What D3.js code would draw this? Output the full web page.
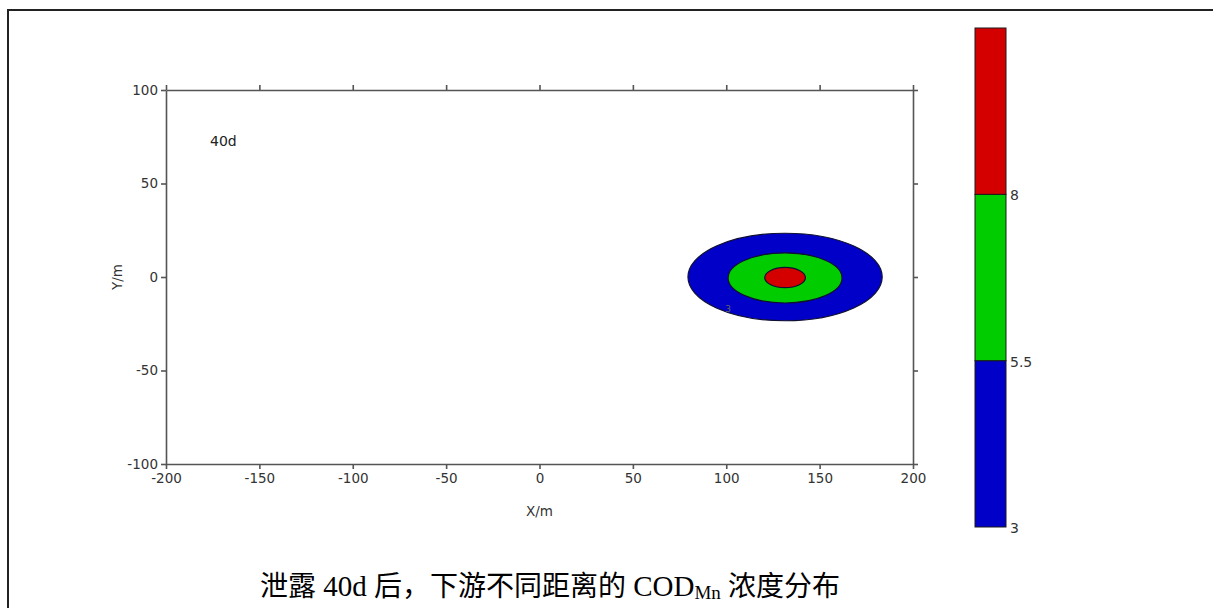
<!DOCTYPE html>
<html>
<head>
<meta charset="utf-8">
<script src="https://cdn.jsdelivr.net/npm/d3@7"></script>
<style>
  html, body { margin: 0; padding: 0; background: #fff; }
  svg { display: block; }
</style>
</head>
<body>
<svg id="chart" width="1213" height="608"></svg>
<script>
// Plume footprint after 40 days: nested concentration bands (outer to inner)
const bandLevels = [3, 5.5, 8];                 // lower bound of each band
const bandColors = ["#0000c8", "#00cc00", "#d40000"];
const bandCenterX = [131.5, 131.5, 131.5];      // m
const bandCenterY = [0, -0.5, -0.3];            // m
const bandRadiusX = [52, 30.5, 10.9];           // m
const bandRadiusY = [23.4, 13.4, 5.4];          // m

const colorbarLevels = [3, 5.5, 8, 10.5];
const colorbarLabels = ["3", "5.5", "8"];

const xTicks = [-200, -150, -100, -50, 0, 50, 100, 150, 200];
const yTicks = [-100, -50, 0, 50, 100];

const timeLabel = "40d";

const svg = d3.select("#chart");

// outer frame (top and left edges)
svg.append("path")
  .attr("d", "M8,608 V10 H1213")
  .attr("fill", "none")
  .attr("stroke", "#222")
  .attr("stroke-width", 2);

const plot = { left: 166, right: 913, top: 90, bottom: 464 };

const x = d3.scaleLinear().domain([-200, 200]).range([plot.left, plot.right]);
const y = d3.scaleLinear().domain([-100, 100]).range([plot.bottom, plot.top]);

const axisColor = "#555";
const tickFont = "'DejaVu Sans', Verdana, sans-serif";
const tickSize = 13.5;

// concentration bands
const bands = svg.append("g");
bandLevels.forEach((lv, i) => {
  const cx = x(bandCenterX[i]), cy = y(bandCenterY[i]);
  const rx = x(bandCenterX[i] + bandRadiusX[i]) - cx;
  const ry = cy - y(bandCenterY[i] + bandRadiusY[i]);
  bands.append("ellipse")
    .attr("cx", cx).attr("cy", cy)
    .attr("rx", rx).attr("ry", ry)
    .attr("fill", bandColors[i])
    .attr("stroke", "#101030")
    .attr("stroke-width", 1.2);
});

// small contour label on the outer band
svg.append("text")
  .attr("x", x(101)).attr("y", y(-18.5))
  .attr("font-family", tickFont)
  .attr("font-size", 9)
  .attr("fill", "#666")
  .attr("text-anchor", "middle")
  .text("3");

function styleAxis(g) {
  g.selectAll("path, line").attr("stroke", axisColor).attr("stroke-width", 1.6);
  g.selectAll("text").attr("fill", "#333").attr("font-family", tickFont).attr("font-size", tickSize);
}

const fmt = d => String(d);

svg.append("g")
  .attr("transform", `translate(0,${plot.bottom})`)
  .call(d3.axisBottom(x).tickValues(xTicks).tickFormat(fmt).tickSize(5).tickSizeOuter(0).tickPadding(4))
  .call(styleAxis);

svg.append("g")
  .attr("transform", `translate(0,${plot.top})`)
  .call(d3.axisTop(x).tickValues(xTicks).tickFormat("").tickSize(5).tickSizeOuter(0))
  .call(styleAxis);

svg.append("g")
  .attr("transform", `translate(${plot.left},0)`)
  .call(d3.axisLeft(y).tickValues(yTicks).tickFormat(fmt).tickSize(5).tickSizeOuter(0).tickPadding(3))
  .call(styleAxis);

svg.append("g")
  .attr("transform", `translate(${plot.right},0)`)
  .call(d3.axisRight(y).tickValues(yTicks).tickFormat("").tickSize(5).tickSizeOuter(0))
  .call(styleAxis);

// axis titles
svg.append("text")
  .attr("x", (plot.left + plot.right) / 2).attr("y", 516)
  .attr("text-anchor", "middle")
  .attr("font-family", tickFont).attr("font-size", tickSize).attr("fill", "#333")
  .text("X/m");

svg.append("text")
  .attr("transform", `translate(122,${(plot.top + plot.bottom) / 2}) rotate(-90)`)
  .attr("text-anchor", "middle")
  .attr("font-family", tickFont).attr("font-size", tickSize).attr("fill", "#333")
  .text("Y/m");

// time stamp
svg.append("text")
  .attr("x", 210).attr("y", 146)
  .attr("font-family", tickFont).attr("font-size", 14).attr("fill", "#222")
  .text(timeLabel);

// colour bar
const cb = d3.scaleLinear().domain([3, 10.5]).range([527, 28]);
const cbX = 975, cbW = 31;
const cbG = svg.append("g");
bandColors.forEach((c, i) => {
  cbG.append("rect")
    .attr("x", cbX)
    .attr("y", cb(colorbarLevels[i + 1]))
    .attr("width", cbW)
    .attr("height", cb(colorbarLevels[i]) - cb(colorbarLevels[i + 1]))
    .attr("fill", c)
    .attr("stroke", "#1a1a1a")
    .attr("stroke-width", 1);
});
colorbarLabels.forEach((t, i) => {
  cbG.append("text")
    .attr("x", cbX + cbW + 4)
    .attr("y", cb(colorbarLevels[i]) + 6)
    .attr("font-family", tickFont).attr("font-size", 14).attr("fill", "#333")
    .text(t);
});

// caption
const cjk = "'Noto Sans CJK SC', sans-serif";
const cap = svg.append("text")
  .attr("x", 550).attr("y", 596)
  .attr("text-anchor", "middle")
  .attr("font-size", 29)
  .attr("fill", "#000")
  .attr("font-family", "'Liberation Serif', 'Times New Roman', serif");
cap.append("tspan").attr("font-family", cjk).attr("font-size", 28).text("泄露");
cap.append("tspan").text(" 40d ");
cap.append("tspan").attr("font-family", cjk).attr("font-size", 28).text("后，下游不同距离的");
cap.append("tspan").text(" COD");
cap.append("tspan").attr("font-size", 19).attr("dy", 3).text("Mn");
cap.append("tspan").attr("dy", -3).text(" ");
cap.append("tspan").attr("font-family", cjk).attr("font-size", 28).text("浓度分布");
</script>
</body>
</html>
